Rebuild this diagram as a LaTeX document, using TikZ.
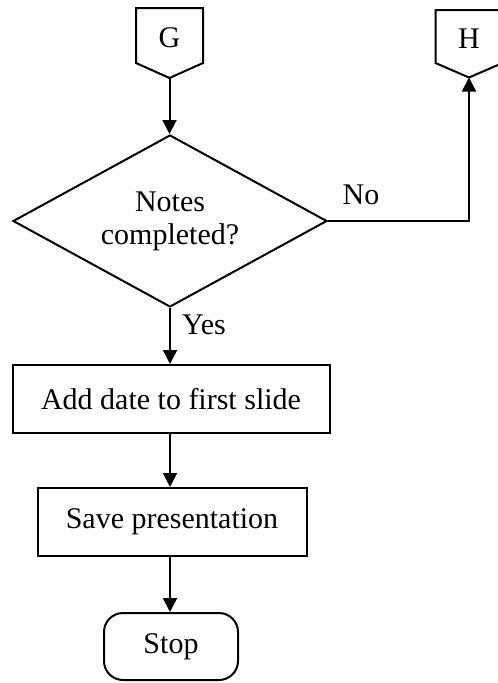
\documentclass[tikz,border=0pt]{standalone}
\usepackage{fontspec}
\setmainfont{Liberation Serif}
\usetikzlibrary{arrows.meta,shapes.geometric}
\tikzset{
  every node/.style={font=\fontsize{30}{33}\selectfont},
  outline/.style={draw=black, line width=2pt, line join=miter},
  flow/.style={draw=black, line width=2pt, -{Triangle[length=14pt,width=14pt]}},
  process/.style={outline, rectangle, minimum height=68pt, inner sep=0pt},
  decision/.style={outline, diamond, minimum width=314pt, minimum height=172pt, aspect=1.83, inner sep=0pt, align=center},
  terminal/.style={outline, rectangle, rounded corners=19pt, minimum width=134pt, minimum height=67pt, inner sep=0pt},
  label/.style={inner sep=0pt}
}
\begin{document}
\begin{tikzpicture}[x=1pt,y=-1pt]
\useasboundingbox (0,0) rectangle (498,683);

% off-page connectors
\draw[outline] (136,8) -- (203,8) -- (203,63) -- (169.5,78) -- (136,63) -- cycle;
\node (G) at (169.5,38) {G};
\coordinate (Gtip) at (169.5,78);

\draw[outline] (435.5,10) -- (502.5,10) -- (502.5,63) -- (469,77.5) -- (435.5,63) -- cycle;
\node (H) at (469,39) {H};
\coordinate (Htip) at (469,77.5);

% decision and steps
\node[decision] (dec) at (170,221) {Notes\\completed?};
\node[process, minimum width=317pt] (add) at (171,399) {Add date to first slide};
\node[process, minimum width=269pt] (save) at (172,522) {Save presentation};
\node[terminal] (stop) at (171,646.5) {Stop};

% connectors
\draw[flow] (Gtip) -- (Gtip |- dec.north);
\draw[flow] (dec.south) -- (dec.south |- add.north);
\draw[flow] (add.south -| dec.south) -- (dec.south |- save.north);
\draw[flow] (save.south -| dec.south) -- (dec.south |- stop.north);
\draw[flow] (dec.east) -| (Htip);

% branch labels
\node[label] (no) at (361,195) {No};
\node[label] (yes) at (204,325) {Yes};
\end{tikzpicture}
\end{document}
